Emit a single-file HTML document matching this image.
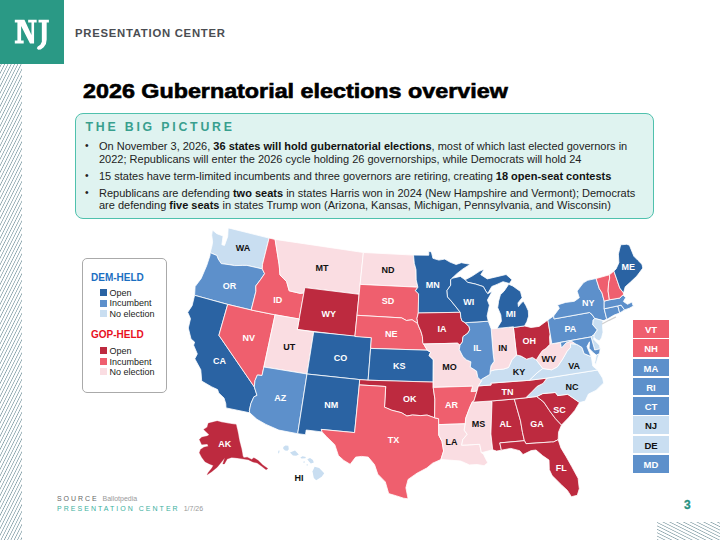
<!DOCTYPE html>
<html><head><meta charset="utf-8">
<style>
*{margin:0;padding:0;box-sizing:border-box}
html,body{width:720px;height:540px;overflow:hidden;background:#fff}
body{position:relative;font-family:"Liberation Sans",sans-serif;color:#222}
.abs{position:absolute}
#logo{left:0;top:0;width:64px;height:64px;background:#2a9985}
#hdr{left:75px;top:27px;font-size:11.3px;font-weight:bold;color:#4a4d52;letter-spacing:0.75px;line-height:12px}
#title{left:83px;top:79.5px;font-size:20px;font-weight:bold;color:#000;line-height:22px;white-space:nowrap;transform:scaleX(1.165);transform-origin:0 0;-webkit-text-stroke:0.6px #000}
#box{left:75px;top:113px;width:579px;height:106px;border:1.8px solid #4fc1ad;border-radius:8px;background:#dff3f0}
#bp{left:85.5px;top:121px;font-size:12.3px;font-weight:bold;color:#389f8e;letter-spacing:2.8px;line-height:13px}
.bl{position:absolute;left:99px;font-size:11px;line-height:12.8px;color:#222;white-space:nowrap}
.bl b{font-weight:bold;color:#111}
.dot{position:absolute;left:85px;font-size:10.3px;line-height:12.8px}
#legend{left:82px;top:258px;width:85px;height:135px;border:1px solid #aaa;border-radius:5px;background:#fff}
.lh{position:absolute;left:8px;font-size:10px;font-weight:bold;line-height:11px}
.li{position:absolute;left:16.5px;width:7px;height:7px}
.lt{position:absolute;left:26.5px;font-size:9px;line-height:10px;color:#222}
.sb{position:absolute;left:633px;width:36px;height:17.5px;font-size:9.5px;font-weight:bold;text-align:center;line-height:19.5px;overflow:hidden}
#src{left:57px;top:495px;font-size:7px;line-height:8px;color:#666;letter-spacing:1.95px}
#src span{letter-spacing:0;color:#999}
#pc{left:57px;top:505px;font-size:7px;line-height:8px;color:#3bb0a0;letter-spacing:2.03px}
#pc span{letter-spacing:0;color:#999}
#pg{left:684px;top:499px;font-size:12px;font-weight:bold;color:#26917f;line-height:13px;-webkit-text-stroke:0.3px #26917f}
svg{position:absolute;left:0;top:0}
.lab{font-family:"Liberation Sans",sans-serif;font-weight:bold;font-size:9px;text-anchor:middle}
</style></head><body>
<svg width="720" height="540" viewBox="0 0 720 540">
<defs>
<pattern id="h1" patternUnits="userSpaceOnUse" width="3.3" height="6.6" patternTransform="skewX(-26.57)">
<rect x="0" y="0" width="0.8" height="6.6" fill="#84a0a8"/>
</pattern>
<pattern id="h2" patternUnits="userSpaceOnUse" width="6.8" height="3.4" patternTransform="translate(657,522) skewY(26.57)">
<rect x="0" y="0" width="6.8" height="0.8" fill="#8aa4ab"/>
</pattern>
</defs>
<rect x="0" y="64" width="22" height="476" fill="url(#h1)"/>
<rect x="657" y="522" width="63" height="18" fill="url(#h2)"/>
</svg>
<div id="logo" class="abs"><svg width="64" height="64" viewBox="0 0 64 64" style="position:absolute;left:0;top:0"><path fill="#fff" d="M14.81,19.81L24.44,19.81L31.48,35.00L31.48,22.41L28.15,22.41L28.15,19.81L36.67,19.81L36.67,22.41L34.07,22.41L34.07,43.52L30.00,43.52L21.11,26.11L21.11,40.56L23.70,40.56L23.70,43.52L14.81,43.52L14.81,40.56L17.41,40.56L17.41,22.41L14.81,22.41ZM38.52,19.81L48.89,19.81L48.89,22.41L46.67,22.41L46.67,39.44L45.93,43.89L43.70,47.22L40.74,49.44L38.15,49.81L36.81,48.33L37.78,46.48L40.37,44.63L41.85,41.67L41.85,22.41L38.52,22.41Z"/></svg></div>
<div id="hdr" class="abs">PRESENTATION CENTER</div>
<div id="title" class="abs">2026 Gubernatorial elections overview</div>
<div id="box" class="abs"></div>
<div id="bp" class="abs">THE BIG PICTURE</div>
<div class="dot" style="top:140.4px">•</div>
<div class="bl" style="top:140.4px">On November 3, 2026, <b>36 states will hold gubernatorial elections</b>, most of which last elected governors in<br>2022; Republicans will enter the 2026 cycle holding 26 governorships, while Democrats will hold 24</div>
<div class="dot" style="top:169.5px">•</div>
<div class="bl" style="top:169.5px">15 states have term-limited incumbents and three governors are retiring, creating <b>18 open-seat contests</b></div>
<div class="dot" style="top:186.5px">•</div>
<div class="bl" style="top:186.5px">Republicans are defending <b>two seats</b> in states Harris won in 2024 (New Hampshire and Vermont); Democrats<br>are defending <b>five seats</b> in states Trump won (Arizona, Kansas, Michigan, Pennsylvania, and Wisconsin)</div>

<div id="legend" class="abs">
<div class="lh" style="top:13.3px;color:#1b6fc2">DEM-HELD</div>
<div class="li" style="top:30px;background:#2a63a3"></div><div class="lt" style="top:28.5px">Open</div>
<div class="li" style="top:40.8px;background:#5d90cb"></div><div class="lt" style="top:39.3px">Incumbent</div>
<div class="li" style="top:51.1px;background:#c9def1"></div><div class="lt" style="top:49.6px">No election</div>
<div class="lh" style="top:70.2px;color:#e8101e">GOP-HELD</div>
<div class="li" style="top:88.1px;background:#bd2a3f"></div><div class="lt" style="top:86.6px">Open</div>
<div class="li" style="top:99.2px;background:#ef5f6e"></div><div class="lt" style="top:97.7px">Incumbent</div>
<div class="li" style="top:109.2px;background:#fadde2"></div><div class="lt" style="top:107.7px">No election</div>
</div>

<svg width="720" height="540" viewBox="0 0 720 540">
<g stroke="#fff" stroke-width="0.8" stroke-linejoin="round">
<path fill="#c9def1" d="M212.4,230.0L216.9,233.7L223.1,236.0L221.9,244.7L224.5,245.4L227.7,236.4L228.1,228.9L228.4,227.9L269.1,238.1L262.5,264.4L262.3,268.9L246.9,265.4L242.7,265.4L234.7,265.6L229.3,264.7L221.2,263.6L218.2,259.0L216.9,255.5L210.2,252.7L211.9,246.2L212.6,241.9L211.7,235.1Z"/>
<path fill="#5d90cb" d="M210.2,252.7L216.9,255.5L218.2,259.0L221.2,263.6L229.3,264.7L234.7,265.6L242.7,265.4L246.9,265.4L262.3,268.9L264.6,273.7L260.7,279.4L255.8,285.9L255.9,291.4L251.2,310.0L227.7,304.4L194.6,295.3L195.1,286.6L201.2,278.4L206.7,265.6L210.0,255.5Z"/>
<path fill="#2a63a3" d="M194.6,295.3L227.7,304.4L218.9,335.3L254.3,386.9L257.0,395.4L253.9,396.8L250.9,403.6L249.4,410.4L249.7,412.8L226.0,407.9L225.8,403.8L224.0,398.0L218.7,392.9L217.6,389.6L211.8,386.9L201.7,381.1L201.3,376.0L200.8,369.8L194.8,358.8L197.3,353.9L193.6,345.2L194.6,342.1L191.0,338.9L188.3,328.0L190.5,318.7L187.7,312.3L192.1,305.7Z"/>
<path fill="#ef5f6e" d="M227.7,304.4L251.2,310.0L275.1,314.8L262.0,375.5L257.4,375.0L255.0,380.5L254.3,386.9L218.9,335.3Z"/>
<path fill="#ef5f6e" d="M269.1,238.1L275.1,239.4L279.2,265.0L280.0,275.0L283.3,278.3L286.7,281.7L289.2,290.8L300.0,293.3L303.9,292.9L299.2,319.0L275.1,314.8L251.2,310.0L255.9,291.4L255.8,285.9L260.7,279.4L264.6,273.7L262.3,268.9L262.5,264.4Z"/>
<path fill="#fadde2" d="M275.1,239.4L363.4,252.5L359.1,294.3L304.8,287.6L303.9,292.9L300.0,293.3L289.2,290.8L286.7,281.7L283.3,278.3L280.0,275.0L279.2,265.0Z"/>
<path fill="#bd2a3f" d="M304.8,287.6L359.1,294.3L354.9,336.5L297.3,329.5Z"/>
<path fill="#fadde2" d="M275.1,314.8L299.2,319.0L297.3,329.5L313.7,331.9L307.0,374.0L263.9,367.0Z"/>
<path fill="#2a63a3" d="M313.7,331.9L371.4,337.7L368.1,380.2L359.7,379.6L307.0,374.0Z"/>
<path fill="#5d90cb" d="M263.9,367.0L307.0,374.0L297.7,433.7L278.8,430.1L265.9,424.4L256.9,419.3L249.7,412.8L249.4,410.4L250.9,403.6L253.9,396.8L257.0,395.4L254.3,386.9L255.0,380.5L257.4,375.0L262.0,375.5Z"/>
<path fill="#2a63a3" d="M307.0,374.0L359.7,379.6L359.3,384.9L354.6,432.6L321.3,429.4L322.1,431.9L306.2,430.0L305.5,434.7L297.7,433.7Z"/>
<path fill="#fadde2" d="M363.4,252.5L413.5,255.1L414.3,263.4L416.0,269.7L416.2,279.9L417.9,287.2L360.1,284.4Z"/>
<path fill="#ef5f6e" d="M360.1,284.4L417.9,287.2L415.5,290.7L418.6,293.9L418.3,313.0L417.0,318.3L417.7,323.6L412.1,319.8L406.4,320.5L401.7,317.9L357.0,315.3Z"/>
<path fill="#ef5f6e" d="M357.0,315.3L401.7,317.9L406.4,320.5L412.1,319.8L417.7,323.6L418.9,326.8L420.8,331.0L422.4,336.4L422.8,342.7L423.6,344.0L427.3,350.2L370.6,348.4L371.4,337.7L354.9,336.5Z"/>
<path fill="#2a63a3" d="M370.6,348.4L427.3,350.2L430.7,352.3L429.0,355.5L433.3,359.7L433.2,382.1L368.1,380.2Z"/>
<path fill="#bd2a3f" d="M359.7,379.6L368.1,380.2L433.2,382.1L433.2,387.4L434.9,399.1L434.6,417.8L427.1,415.1L420.6,415.6L412.4,415.0L406.9,416.0L401.5,412.7L391.6,410.2L386.3,407.9L384.5,407.2L385.7,386.5L359.3,384.9Z"/>
<path fill="#ef5f6e" d="M359.3,384.9L385.7,386.5L384.5,407.2L386.3,407.9L391.6,410.2L401.5,412.7L406.9,416.0L412.4,415.0L420.6,415.6L427.1,415.1L434.6,417.8L438.6,418.7L438.7,424.6L438.8,435.2L442.0,441.5L443.6,451.0L440.9,459.5L432.6,463.2L426.8,468.0L417.0,473.2L408.1,479.4L405.9,487.8L408.1,498.8L403.6,498.2L396.6,495.9L388.7,493.6L385.3,481.9L377.8,474.2L374.5,464.6L368.2,457.1L361.5,456.4L355.7,457.1L350.2,464.3L343.8,460.4L338.4,455.6L334.8,444.7L326.3,436.4L322.1,431.9L321.3,429.4L354.6,432.6Z"/>
<path fill="#2a63a3" d="M413.5,255.1L428.8,255.2L428.8,251.2L431.4,252.0L432.9,258.3L438.8,260.1L444.8,259.1L450.0,262.1L456.1,264.5L461.3,262.7L470.3,264.3L463.0,268.9L457.2,273.4L452.0,278.3L450.6,279.9L450.7,285.2L447.0,290.5L447.5,296.9L451.2,301.0L454.5,305.1L460.3,312.3L418.3,313.0L418.6,293.9L415.5,290.7L417.9,287.2L416.2,279.9L416.0,269.7L414.3,263.4Z"/>
<path fill="#bd2a3f" d="M418.3,313.0L460.3,312.3L460.9,317.6L461.9,320.7L465.2,322.7L469.1,326.7L469.7,329.9L467.8,333.2L463.0,336.6L462.4,341.9L460.0,345.2L457.4,343.2L423.6,344.0L422.8,342.7L422.4,336.4L420.8,331.0L418.9,326.8L417.7,323.6L417.0,318.3Z"/>
<path fill="#fadde2" d="M423.6,344.0L457.4,343.2L460.0,345.2L459.3,349.5L463.0,356.8L466.5,359.9L470.9,361.8L470.3,367.1L476.6,371.1L477.8,377.4L481.6,380.9L478.4,385.9L476.9,391.3L471.0,391.6L472.6,386.2L433.2,387.4L433.2,382.1L433.3,359.7L429.0,355.5L430.7,352.3L427.3,350.2Z"/>
<path fill="#ef5f6e" d="M433.2,387.4L472.6,386.2L471.0,391.6L476.9,391.3L473.9,401.1L472.1,402.2L469.7,407.7L465.6,418.5L465.3,423.8L438.7,424.6L438.6,418.7L434.6,417.8L434.9,399.1Z"/>
<path fill="#fadde2" d="M438.7,424.6L465.3,423.8L464.2,430.2L467.2,434.3L462.7,439.8L461.7,445.2L479.7,444.3L481.4,452.7L483.4,454.1L485.6,458.7L487.8,462.8L484.1,465.7L477.2,464.5L469.5,464.9L460.6,461.0L451.9,460.3L440.9,459.5L443.6,451.0L442.0,441.5L438.8,435.2Z"/>
<path fill="#fadde2" d="M472.1,402.2L491.0,401.0L492.0,402.0L490.9,434.0L492.7,449.8L481.4,452.7L479.7,444.3L461.7,445.2L462.7,439.8L467.2,434.3L464.2,430.2L465.3,423.8L465.6,418.5L469.7,407.7Z"/>
<path fill="#bd2a3f" d="M491.0,401.0L514.3,399.0L520.5,420.8L522.5,432.4L524.4,440.7L499.8,442.9L501.4,450.2L496.6,451.1L492.7,449.8L490.9,434.0L492.0,402.0Z"/>
<path fill="#bd2a3f" d="M514.3,399.0L525.8,397.8L536.7,396.5L543.8,402.1L549.7,410.9L555.5,418.7L561.5,425.0L558.5,432.2L558.2,439.7L553.3,442.0L551.3,442.0L526.0,443.7L524.4,440.7L522.5,432.4L520.5,420.8Z"/>
<path fill="#bd2a3f" d="M499.8,442.9L524.4,440.7L526.0,443.7L551.3,442.0L553.3,442.0L558.2,439.7L560.9,447.9L566.2,456.7L571.7,466.5L578.1,478.3L579.3,488.7L577.3,495.3L571.4,496.7L567.4,490.4L561.5,484.9L552.1,475.6L549.3,469.6L549.0,460.1L542.5,455.6L536.0,450.0L531.2,450.6L523.0,454.6L519.7,450.7L510.8,448.4L501.4,450.2Z"/>
<path fill="#bd2a3f" d="M536.7,396.5L542.7,393.6L554.9,392.5L555.9,392.9L557.7,395.6L567.7,394.3L579.5,402.5L574.8,410.4L568.5,417.8L561.5,425.0L555.5,418.7L549.7,410.9L543.8,402.1Z"/>
<path fill="#c9def1" d="M525.8,397.8L532.4,391.2L537.2,386.3L543.0,383.4L546.9,378.1L597.5,370.0L602.6,378.2L603.7,382.9L596.0,390.4L588.5,394.0L585.2,401.1L579.5,402.5L567.7,394.3L557.7,395.6L555.9,392.9L554.9,392.5L542.7,393.6L536.7,396.5Z"/>
<path fill="#bd2a3f" d="M472.1,402.2L491.0,401.0L514.3,399.0L525.8,397.8L532.4,391.2L537.2,386.3L543.0,383.4L546.9,378.1L529.4,380.3L490.8,383.1L491.1,385.0L478.4,385.9L476.9,391.3L473.9,401.1Z"/>
<path fill="#c9def1" d="M478.4,385.9L491.1,385.0L490.8,383.1L529.4,380.3L537.1,372.9L542.9,368.5L536.3,359.9L532.4,357.4L526.6,359.2L521.1,356.1L516.5,354.9L512.0,359.7L508.5,367.5L503.4,369.1L494.8,369.8L490.1,371.2L489.9,374.4L481.5,379.3L481.6,380.9Z"/>
<path fill="#c9def1" d="M529.4,380.3L546.9,378.1L597.5,370.0L592.8,366.1L591.3,356.6L584.1,353.6L582.0,347.5L578.0,345.0L575.9,344.1L570.4,343.7L570.6,347.4L567.0,351.3L564.4,356.0L562.3,359.6L557.4,366.8L551.7,369.8L542.9,368.5L537.1,372.9Z"/>
<path fill="#c9def1" d="M599.5,353.5L596.3,355.1L594.7,363.0L596.0,364.4L597.5,358.6Z"/>
<path fill="#fadde2" d="M542.9,368.5L551.7,369.8L557.4,366.8L562.3,359.6L564.4,356.0L567.0,351.3L570.6,347.4L570.4,343.7L575.9,344.1L571.2,341.0L566.3,342.7L561.4,347.9L560.4,342.4L551.8,343.8L550.2,334.1L549.5,336.8L549.9,344.3L545.8,348.6L542.3,350.7L539.8,354.3L536.3,359.9Z"/>
<path fill="#bd2a3f" d="M513.4,327.5L524.5,325.9L531.0,327.5L539.1,326.4L547.9,320.0L550.2,334.1L549.5,336.8L549.9,344.3L545.8,348.6L542.3,350.7L539.8,354.3L536.3,359.9L532.4,357.4L526.6,359.2L521.1,356.1L516.5,354.9Z"/>
<path fill="#fadde2" d="M491.2,328.9L497.0,328.4L513.5,326.8L513.4,327.5L516.5,354.9L512.0,359.7L508.5,367.5L503.4,369.1L494.8,369.8L490.1,371.2L491.0,365.8L494.1,361.3L493.2,354.4Z"/>
<path fill="#5d90cb" d="M465.2,322.7L488.3,321.2L491.2,328.9L493.2,354.4L494.1,361.3L491.0,365.8L490.1,371.2L489.9,374.4L481.5,379.3L481.6,380.9L477.8,377.4L476.6,371.1L470.3,367.1L470.9,361.8L466.5,359.9L463.0,356.8L459.3,349.5L460.0,345.2L462.4,341.9L463.0,336.6L467.8,333.2L469.7,329.9L469.1,326.7Z"/>
<path fill="#2a63a3" d="M497.0,328.4L513.5,326.8L513.4,327.5L524.5,325.9L526.9,321.6L528.6,316.1L528.3,310.8L526.0,305.7L523.4,301.2L521.2,303.1L518.4,306.6L518.0,302.9L522.1,297.7L520.5,291.5L512.8,286.0L508.7,284.3L504.0,291.2L500.4,294.7L498.6,301.2L497.7,307.7L500.8,314.9L501.4,321.2Z"/>
<path fill="#2a63a3" d="M465.1,279.8L471.8,276.3L479.8,271.1L484.2,269.2L480.8,274.7L487.3,278.9L494.8,277.2L506.1,274.5L509.4,277.4L512.0,279.7L509.4,283.5L503.0,281.7L497.0,284.4L491.8,286.5L487.7,293.7L485.9,291.2L483.3,286.6L475.3,284.0L467.5,282.3Z"/>
<path fill="#2a63a3" d="M452.0,278.3L460.3,276.4L465.1,279.8L467.5,282.3L475.3,284.0L483.3,286.6L485.9,291.2L487.7,293.7L492.2,291.2L492.9,290.1L487.4,300.1L489.4,305.2L487.1,316.0L488.3,321.2L465.2,322.7L461.9,320.7L460.9,317.6L460.3,312.3L454.5,305.1L451.2,301.0L447.5,296.9L447.0,290.5L450.7,285.2L450.6,279.9Z"/>
<path fill="#5d90cb" d="M551.8,343.8L547.9,320.0L553.6,316.0L554.1,318.9L589.5,312.5L592.1,314.6L594.7,318.4L593.2,320.2L592.8,324.8L597.4,329.9L594.6,333.7L593.3,335.6L591.1,336.9Z"/>
<path fill="#5d90cb" d="M554.1,318.9L553.6,316.0L559.3,308.3L557.5,304.9L565.6,302.4L574.4,301.3L579.3,297.7L577.1,291.1L583.4,282.8L587.7,280.3L596.1,278.5L599.3,288.6L602.0,292.9L604.2,301.1L604.2,308.8L606.6,318.6L605.6,320.1L603.0,320.6L594.7,318.4L592.1,314.6L589.5,312.5Z"/>
<path fill="#c9def1" d="M594.7,318.4L603.0,320.6L602.5,325.7L603.0,332.2L601.6,337.8L599.3,341.0L596.5,339.6L593.0,336.7L594.6,333.7L597.4,329.9L592.8,324.8L593.2,320.2Z"/>
<path fill="#c9def1" d="M591.1,336.9L592.6,335.4L594.2,335.4L593.7,339.3L599.4,345.2L600.2,348.8L594.7,350.0Z"/>
<path fill="#5d90cb" d="M560.4,342.4L591.1,336.9L594.7,350.0L600.2,348.8L599.5,353.5L596.3,355.1L592.5,352.0L589.1,348.3L589.5,341.8L587.0,346.6L590.6,355.6L591.3,356.6L584.1,353.6L582.0,347.5L578.0,345.0L575.9,344.1L571.2,341.0L566.3,342.7L561.4,347.9Z"/>
<path fill="#5d90cb" d="M604.2,308.8L617.8,305.9L619.7,313.0L614.2,315.0L605.6,320.1L606.6,318.6Z"/>
<path fill="#5d90cb" d="M617.8,305.9L621.1,305.1L624.6,309.9L619.3,313.2L619.7,313.0Z"/>
<path fill="#5d90cb" d="M604.2,308.8L604.2,301.1L609.4,299.8L620.0,298.0L621.8,295.8L623.3,295.3L625.7,297.6L623.4,301.5L627.5,304.3L632.0,302.0L632.8,305.1L633.5,306.0L629.4,308.2L624.6,309.9L621.1,305.1L617.8,305.9Z"/>
<path fill="#ef5f6e" d="M596.1,278.5L609.4,274.8L609.7,278.1L608.6,283.2L608.1,291.0L609.4,299.8L604.2,301.1L602.0,292.9L599.3,288.6Z"/>
<path fill="#ef5f6e" d="M609.4,274.8L613.9,271.1L619.8,288.1L623.5,292.9L623.3,295.3L621.8,295.8L620.0,298.0L609.4,299.8L608.1,291.0L608.6,283.2L609.7,278.1Z"/>
<path fill="#2a63a3" d="M613.9,271.1L616.1,268.9L618.9,262.7L618.4,254.1L620.7,244.8L626.6,244.3L629.4,245.2L633.9,256.3L637.9,260.3L642.0,264.4L642.8,268.1L636.9,276.0L630.5,282.1L625.2,286.8L623.5,292.9L619.8,288.1Z"/>
<path fill="#bd2a3f" stroke="#bd2a3f" stroke-width="0.3" d="M208.3,423.3L217.2,421.1L221.7,422.2L231.7,423.9L236.1,424.4L237.8,431.7L239.4,440.6L241.7,449.4L242.8,456.1L243.9,457.8L247.2,457.2L251.7,459.4L253.9,457.8L258.3,460.6L262.8,465.0L267.8,468.6L266.1,469.7L261.7,466.3L257.2,463.0L252.8,461.9L248.3,459.7L243.9,459.1L237.2,458.0L231.7,457.4L227.2,458.9L224.4,463.9L222.8,463.9L224.8,457.8L221.7,461.7L217.2,467.2L211.7,471.7L207.2,474.8L208.1,472.8L211.7,468.3L213.3,465.6L209.4,463.9L205.0,461.7L201.7,457.2L199.4,452.8L200.6,449.4L203.9,447.2L208.3,446.3L207.4,444.1L201.7,444.4L199.4,439.4L201.7,437.2L207.2,436.1L209.2,434.8L206.1,431.7L203.7,429.4L207.2,427.2Z"/>
<path fill="#c9def1" stroke="none" d="M278.3,450.8L279.6,450.4L279.2,452.5L278.2,453.8Z"/>
<path fill="#c9def1" stroke="none" d="M283.3,447.1L285.4,445.4L288.3,445.8L288.8,449.2L287.5,450.7L285.0,450.4L283.2,448.8Z"/>
<path fill="#c9def1" stroke="none" d="M290.0,452.5L295.0,450.4L298.8,454.6L296.2,455.7L292.9,455.4Z"/>
<path fill="#c9def1" stroke="none" d="M300.4,457.5L302.5,456.2L305.8,457.1L305.4,458.3L301.5,458.5Z"/>
<path fill="#c9def1" stroke="none" d="M303.3,461.7L304.6,461.2L304.8,462.5L303.6,462.7Z"/>
<path fill="#c9def1" stroke="none" d="M306.5,464.6L307.7,464.2L307.7,465.4L306.7,465.6Z"/>
<path fill="#c9def1" stroke="none" d="M307.3,459.2L310.0,457.9L312.9,460.0L313.8,462.5L310.8,463.5L308.8,461.2Z"/>
<path fill="#c9def1" stroke="none" d="M312.5,471.5L314.6,466.7L319.2,467.9L324.2,473.3L321.7,476.7L316.2,480.2L313.8,477.9Z"/>
<path d="M602.5,323.8L609,320.3L615.5,317.2" stroke="#d0d0d0" stroke-width="1.3" fill="none" stroke-linecap="round"/>
</g>
<text class="lab" x="242.9" y="250.8" fill="#111">WA</text>
<text class="lab" x="229.6" y="288.8" fill="#fff">OR</text>
<text class="lab" x="277.8" y="302.8" fill="#fff">ID</text>
<text class="lab" x="322.1" y="270.8" fill="#111">MT</text>
<text class="lab" x="387.9" y="272.8" fill="#111">ND</text>
<text class="lab" x="387.9" y="303.7" fill="#fff">SD</text>
<text class="lab" x="328.8" y="316.7" fill="#fff">WY</text>
<text class="lab" x="391.2" y="336.7" fill="#fff">NE</text>
<text class="lab" x="432.8" y="288.0" fill="#fff">MN</text>
<text class="lab" x="468.8" y="305.0" fill="#fff">WI</text>
<text class="lab" x="510.8" y="316.7" fill="#fff">MI</text>
<text class="lab" x="442.1" y="332.0" fill="#fff">IA</text>
<text class="lab" x="248.8" y="340.8" fill="#fff">NV</text>
<text class="lab" x="289.2" y="350.0" fill="#111">UT</text>
<text class="lab" x="219.4" y="363.8" fill="#fff">CA</text>
<text class="lab" x="280.2" y="400.8" fill="#fff">AZ</text>
<text class="lab" x="340.4" y="360.8" fill="#fff">CO</text>
<text class="lab" x="399.2" y="368.8" fill="#fff">KS</text>
<text class="lab" x="331.3" y="408.0" fill="#fff">NM</text>
<text class="lab" x="409.8" y="402.0" fill="#fff">OK</text>
<text class="lab" x="477.2" y="351.2" fill="#fff">IL</text>
<text class="lab" x="502.7" y="351.2" fill="#111">IN</text>
<text class="lab" x="529.2" y="343.8" fill="#fff">OH</text>
<text class="lab" x="449.4" y="369.7" fill="#111">MO</text>
<text class="lab" x="519.0" y="375.0" fill="#111">KY</text>
<text class="lab" x="507.5" y="394.5" fill="#fff">TN</text>
<text class="lab" x="451.5" y="407.5" fill="#fff">AR</text>
<text class="lab" x="570.4" y="332.0" fill="#fff">PA</text>
<text class="lab" x="588.3" y="305.8" fill="#fff">NY</text>
<text class="lab" x="548.8" y="362.0" fill="#111">WV</text>
<text class="lab" x="574.2" y="368.8" fill="#111">VA</text>
<text class="lab" x="572.1" y="389.7" fill="#111">NC</text>
<text class="lab" x="478.4" y="426.8" fill="#111">MS</text>
<text class="lab" x="505.4" y="426.8" fill="#fff">AL</text>
<text class="lab" x="536.9" y="426.8" fill="#fff">GA</text>
<text class="lab" x="559.4" y="412.5" fill="#fff">SC</text>
<text class="lab" x="451.6" y="444.5" fill="#111">LA</text>
<text class="lab" x="561.2" y="470.5" fill="#fff">FL</text>
<text class="lab" x="393.4" y="443.0" fill="#fff">TX</text>
<text class="lab" x="224.7" y="446.7" fill="#fff">AK</text>
<text class="lab" x="299.0" y="480.7" fill="#111">HI</text>
<text class="lab" x="628.2" y="269.7" fill="#fff">ME</text>
</svg>

<div class="sb" style="top:320.0px;background:#ef5f6e;color:#fff">VT</div>
<div class="sb" style="top:339.3px;background:#ef5f6e;color:#fff">NH</div>
<div class="sb" style="top:358.6px;background:#5d90cb;color:#fff">MA</div>
<div class="sb" style="top:377.9px;background:#5d90cb;color:#fff">RI</div>
<div class="sb" style="top:397.2px;background:#5d90cb;color:#fff">CT</div>
<div class="sb" style="top:416.4px;background:#c9def1;color:#111">NJ</div>
<div class="sb" style="top:435.7px;background:#c9def1;color:#111">DE</div>
<div class="sb" style="top:455.0px;background:#5d90cb;color:#fff">MD</div>

<div id="src" class="abs">SOURCE <span>Ballotpedia</span></div>
<div id="pc" class="abs">PRESENTATION CENTER <span>1/7/26</span></div>
<div id="pg" class="abs">3</div>
</body></html>
